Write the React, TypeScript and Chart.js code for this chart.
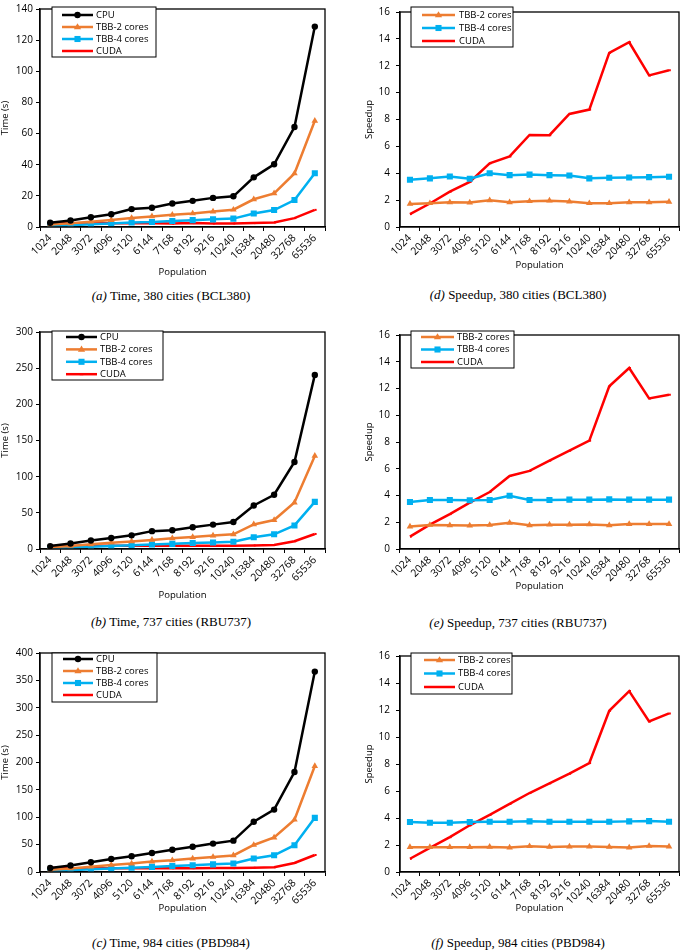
import React, { useEffect, useRef } from 'react';
import { Chart, registerables } from 'chart.js';

Chart.register(...registerables);

// ---------- Data ----------
const populations = ['1024', '2048', '3072', '4096', '5120', '6144', '7168', '8192', '9216', '10240', '16384', '20480', '32768', '65536'];

// (a) Time, 380 cities (BCL380)
const timeBCL380Cpu = [2.7, 4.2, 6.3, 8.2, 11.5, 12.4, 15.1, 16.8, 18.7, 19.7, 31.9, 40.3, 64.2, 128.7];
const timeBCL380Tbb2 = [1.6, 2.4, 3.4, 4.5, 5.8, 6.8, 7.8, 8.7, 9.9, 11.1, 17.8, 21.6, 34.4, 68.2];
const timeBCL380Tbb4 = [0.8, 1.2, 1.7, 2.3, 2.9, 3.2, 3.9, 4.4, 4.9, 5.4, 8.7, 10.9, 17.3, 34.5];
const timeBCL380Cuda = [2.8, 2.3, 2.4, 2.45, 2.4, 2.4, 2.2, 2.5, 2.2, 2.25, 2.5, 2.9, 5.7, 11.0];

// (d) Speedup, 380 cities (BCL380)
const speedBCL380Tbb2 = [1.72, 1.77, 1.84, 1.82, 1.99, 1.84, 1.92, 1.96, 1.89, 1.77, 1.77, 1.84, 1.84, 1.87];
const speedBCL380Tbb4 = [3.52, 3.62, 3.76, 3.59, 4.0, 3.86, 3.9, 3.86, 3.83, 3.62, 3.66, 3.69, 3.71, 3.74];
const speedBCL380Cuda = [0.96, 1.75, 2.63, 3.35, 4.74, 5.25, 6.85, 6.83, 8.41, 8.74, 12.96, 13.75, 11.28, 11.66];

// (b) Time, 737 cities (RBU737)
const timeRBU737Cpu = [4.0, 7.6, 11.7, 15.3, 18.9, 24.7, 26.0, 30.0, 33.7, 37.3, 60.2, 75.0, 120.3, 240.7];
const timeRBU737Tbb2 = [2.4, 4.2, 6.6, 8.7, 10.5, 12.6, 14.7, 16.5, 18.5, 20.3, 34.0, 40.1, 64.3, 128.7];
const timeRBU737Tbb4 = [1.1, 2.1, 3.2, 4.2, 5.2, 6.2, 7.1, 8.2, 9.1, 10.1, 16.2, 20.3, 32.6, 65.2];
const timeRBU737Cuda = [4.2, 4.2, 4.5, 4.4, 4.45, 4.5, 4.4, 4.5, 4.6, 4.6, 4.95, 5.6, 10.7, 20.8];

// (e) Speedup, 737 cities (RBU737)
const speedRBU737Tbb2 = [1.68, 1.8, 1.77, 1.75, 1.8, 1.96, 1.77, 1.82, 1.82, 1.84, 1.77, 1.87, 1.87, 1.87];
const speedRBU737Tbb4 = [3.52, 3.66, 3.66, 3.64, 3.66, 3.98, 3.66, 3.66, 3.69, 3.69, 3.71, 3.69, 3.69, 3.69];
const speedRBU737Cuda = [0.93, 1.82, 2.61, 3.47, 4.26, 5.46, 5.84, 6.61, 7.35, 8.1, 12.17, 13.53, 11.26, 11.54];

// (c) Time, 984 cities (PBD984)
const timePBD984Cpu = [7.2, 11.9, 17.9, 23.9, 28.7, 34.6, 40.6, 46.0, 51.9, 57.3, 91.9, 114.0, 182.7, 366.0];
const timePBD984Tbb2 = [3.9, 6.5, 9.7, 13.0, 15.4, 19.1, 21.3, 24.7, 27.5, 30.3, 49.4, 63.0, 95.5, 193.5];
const timePBD984Tbb4 = [1.95, 3.26, 4.9, 6.5, 7.8, 9.35, 10.9, 12.4, 14.0, 15.5, 24.8, 30.6, 49.0, 98.9];
const timePBD984Cuda = [7.6, 6.7, 7.0, 6.9, 6.8, 6.9, 6.9, 7.0, 7.2, 7.1, 7.7, 8.5, 16.4, 31.1];

// (f) Speedup, 984 cities (PBD984)
const speedPBD984Tbb2 = [1.84, 1.84, 1.84, 1.84, 1.86, 1.81, 1.91, 1.86, 1.89, 1.89, 1.86, 1.81, 1.93, 1.89];
const speedPBD984Tbb4 = [3.7, 3.65, 3.65, 3.7, 3.72, 3.72, 3.75, 3.72, 3.72, 3.72, 3.72, 3.75, 3.77, 3.72];
const speedPBD984Cuda = [0.98, 1.79, 2.58, 3.46, 4.23, 5.04, 5.85, 6.57, 7.28, 8.07, 11.94, 13.4, 11.15, 11.75];

// ---------- Styles ----------
const FONT = "'Open Sans', 'DejaVu Sans', sans-serif";
const SERIF = "'Liberation Serif', 'Times New Roman', serif";

const STYLE_CPU = { label: 'CPU', color: '#000000', pointStyle: 'circle', radius: 3.2 };
const STYLE_TBB2 = { label: 'TBB-2 cores', color: '#ED7D31', pointStyle: 'triangle', radius: 3.8 };
const STYLE_TBB4 = { label: 'TBB-4 cores', color: '#00B0F0', pointStyle: 'rect', radius: 4.3 };
const STYLE_CUDA = { label: 'CUDA', color: '#FF0000', pointStyle: 'dash', radius: 1.8 };

type Series = { style: typeof STYLE_CPU; data: number[] };
type LegendCfg = { x: number; y: number; w: number; h: number; rowY: number; rowDy: number; lineX0: number; lineX1: number; textX: number };
type PanelCfg = {
  key: string;
  left: number; top: number; width: number; height: number;
  padTop: number; padRight: number;
  yAxisWidth: number; xAxisHeight: number;
  yTitle: string; yTitlePad: number; yTickPad: number;
  yMax: number; yStep: number;
  series: Series[];
  legend: LegendCfg;
  capTag: string; capText: string; capCenterX: number; capCenterY: number;
};

const panels: PanelCfg[] = [
  {
    key: 'a', left: 0, top: 0, width: 342, height: 278, padTop: 4, padRight: 17,
    yAxisWidth: 40, xAxisHeight: 51, yTitle: 'Time (s)', yTitlePad: 0, yTickPad: 3,
    yMax: 140, yStep: 20,
    series: [
      { style: STYLE_CPU, data: timeBCL380Cpu },
      { style: STYLE_TBB2, data: timeBCL380Tbb2 },
      { style: STYLE_TBB4, data: timeBCL380Tbb4 },
      { style: STYLE_CUDA, data: timeBCL380Cuda },
    ],
    legend: { x: 52, y: 7, w: 104, h: 50, rowY: 15, rowDy: 12, lineX0: 62, lineX1: 93, textX: 96 },
    capTag: '(a)', capText: ' Time, 380 cities (BCL380)', capCenterX: 171, capCenterY: 296,
  },
  {
    key: 'd', left: 342, top: 0, width: 343, height: 271, padTop: 4, padRight: 1,
    yAxisWidth: 58, xAxisHeight: 44, yTitle: 'Speedup', yTitlePad: 22, yTickPad: 6,
    yMax: 16, yStep: 2,
    series: [
      { style: STYLE_TBB2, data: speedBCL380Tbb2 },
      { style: STYLE_TBB4, data: speedBCL380Tbb4 },
      { style: STYLE_CUDA, data: speedBCL380Cuda },
    ],
    legend: { x: 69, y: 7, w: 102, h: 40, rowY: 15, rowDy: 13, lineX0: 80, lineX1: 113, textX: 117 },
    capTag: '(d)', capText: ' Speedup, 380 cities (BCL380)', capCenterX: 518, capCenterY: 295,
  },
  {
    key: 'b', left: 0, top: 323, width: 342, height: 278, padTop: 4, padRight: 17,
    yAxisWidth: 40, xAxisHeight: 52, yTitle: 'Time (s)', yTitlePad: 0, yTickPad: 3,
    yMax: 300, yStep: 50,
    series: [
      { style: STYLE_CPU, data: timeRBU737Cpu },
      { style: STYLE_TBB2, data: timeRBU737Tbb2 },
      { style: STYLE_TBB4, data: timeRBU737Tbb4 },
      { style: STYLE_CUDA, data: timeRBU737Cuda },
    ],
    legend: { x: 52, y: 8, w: 111, h: 49, rowY: 14, rowDy: 12.4, lineX0: 66, lineX1: 97, textX: 100 },
    capTag: '(b)', capText: ' Time, 737 cities (RBU737)', capCenterX: 171, capCenterY: 622,
  },
  {
    key: 'e', left: 342, top: 323, width: 343, height: 269, padTop: 4, padRight: 1,
    yAxisWidth: 58, xAxisHeight: 43, yTitle: 'Speedup', yTitlePad: 22, yTickPad: 6,
    yMax: 16, yStep: 2,
    series: [
      { style: STYLE_TBB2, data: speedRBU737Tbb2 },
      { style: STYLE_TBB4, data: speedRBU737Tbb4 },
      { style: STYLE_CUDA, data: speedRBU737Cuda },
    ],
    legend: { x: 69, y: 8, w: 103, h: 37, rowY: 14, rowDy: 12.5, lineX0: 79, lineX1: 112, textX: 115 },
    capTag: '(e)', capText: ' Speedup, 737 cities (RBU737)', capCenterX: 518, capCenterY: 623,
  },
  {
    key: 'c', left: 0, top: 644, width: 342, height: 270, padTop: 4, padRight: 17,
    yAxisWidth: 40, xAxisHeight: 42, yTitle: 'Time (s)', yTitlePad: 0, yTickPad: 3,
    yMax: 400, yStep: 50,
    series: [
      { style: STYLE_CPU, data: timePBD984Cpu },
      { style: STYLE_TBB2, data: timePBD984Tbb2 },
      { style: STYLE_TBB4, data: timePBD984Tbb4 },
      { style: STYLE_CUDA, data: timePBD984Cuda },
    ],
    legend: { x: 52, y: 9, w: 105, h: 49, rowY: 15, rowDy: 12, lineX0: 63, lineX1: 93, textX: 96 },
    capTag: '(c)', capText: ' Time, 984 cities (PBD984)', capCenterX: 171, capCenterY: 943,
  },
  {
    key: 'f', left: 342, top: 644, width: 343, height: 270, padTop: 4, padRight: 1,
    yAxisWidth: 58, xAxisHeight: 42, yTitle: 'Speedup', yTitlePad: 22, yTickPad: 6,
    yMax: 16, yStep: 2,
    series: [
      { style: STYLE_TBB2, data: speedPBD984Tbb2 },
      { style: STYLE_TBB4, data: speedPBD984Tbb4 },
      { style: STYLE_CUDA, data: speedPBD984Cuda },
    ],
    legend: { x: 69, y: 9, w: 101, h: 41, rowY: 16, rowDy: 13.5, lineX0: 82, lineX1: 113, textX: 116 },
    capTag: '(f)', capText: ' Speedup, 984 cities (PBD984)', capCenterX: 518, capCenterY: 943,
  },
];

// ---------- Plugins ----------
function drawMarker(ctx: CanvasRenderingContext2D, style: string, x: number, y: number, r: number, color: string) {
  ctx.save();
  ctx.fillStyle = color;
  ctx.strokeStyle = color;
  ctx.beginPath();
  if (style === 'circle') {
    ctx.arc(x, y, r, 0, Math.PI * 2);
    ctx.fill();
  } else if (style === 'triangle') {
    ctx.moveTo(x, y - r);
    ctx.lineTo(x + r * 0.95, y + r * 0.6);
    ctx.lineTo(x - r * 0.95, y + r * 0.6);
    ctx.closePath();
    ctx.fill();
  } else if (style === 'rect') {
    const s = r * Math.SQRT1_2;
    ctx.fillRect(x - s, y - s, 2 * s, 2 * s);
  } else if (style === 'dash') {
    ctx.lineWidth = 2;
    ctx.moveTo(x - r, y);
    ctx.lineTo(x + r, y);
    ctx.stroke();
  }
  ctx.restore();
}

const framePlugin = {
  id: 'frame',
  afterDraw(chart: any) {
    const { ctx, chartArea } = chart;
    ctx.save();
    ctx.strokeStyle = '#000';
    ctx.lineWidth = 1.3;
    ctx.strokeRect(chartArea.left, chartArea.top, chartArea.right - chartArea.left, chartArea.bottom - chartArea.top);
    ctx.restore();
  },
};

const boxLegendPlugin = {
  id: 'boxLegend',
  afterDraw(chart: any, _args: any, opts: any) {
    if (!opts || opts.w === undefined) return;
    const ctx: CanvasRenderingContext2D = chart.ctx;
    ctx.save();
    ctx.fillStyle = '#fff';
    ctx.fillRect(opts.x, opts.y, opts.w, opts.h);
    ctx.strokeStyle = '#000';
    ctx.lineWidth = 1;
    ctx.strokeRect(opts.x, opts.y, opts.w, opts.h);
    chart.data.datasets.forEach((ds: any, i: number) => {
      const y = opts.rowY + i * opts.rowDy;
      ctx.beginPath();
      ctx.strokeStyle = ds.borderColor;
      ctx.lineWidth = 2.5;
      ctx.moveTo(opts.lineX0, y);
      ctx.lineTo(opts.lineX1, y);
      ctx.stroke();
      drawMarker(ctx, ds.pointStyle, (opts.lineX0 + opts.lineX1) / 2, y, ds.pointRadius, ds.borderColor);
      ctx.fillStyle = '#000';
      ctx.font = `9.5px ${FONT}`;
      ctx.textBaseline = 'middle';
      ctx.textAlign = 'left';
      ctx.fillText(ds.label, opts.textX, y);
    });
    ctx.restore();
  },
};

// ---------- Components ----------
function PanelChart({ p }: { p: PanelCfg }) {
  const ref = useRef<HTMLCanvasElement>(null);
  useEffect(() => {
    if (!ref.current) return;
    const chart = new Chart(ref.current, {
      type: 'line',
      data: {
        labels: populations,
        datasets: p.series.map((s) => ({
          label: s.style.label,
          data: s.data,
          borderColor: s.style.color,
          backgroundColor: s.style.color,
          borderWidth: 2.5,
          pointStyle: s.style.pointStyle as any,
          pointRadius: s.style.radius,
          pointBorderWidth: s.style.pointStyle === 'dash' ? 2 : 0,
          pointBackgroundColor: s.style.color,
          pointBorderColor: s.style.color,
          tension: 0,
          fill: false,
        })),
      },
      options: {
        animation: false,
        responsive: false,
        maintainAspectRatio: false,
        layout: { padding: { top: p.padTop, right: p.padRight, left: 0, bottom: 0 } },
        plugins: {
          legend: { display: false },
          tooltip: { enabled: false },
          boxLegend: p.legend,
        } as any,
        scales: {
          x: {
            type: 'category',
            offset: true,
            grid: { offset: true, drawOnChartArea: false, drawTicks: true, tickLength: 4, color: '#000', lineWidth: 1 },
            border: { display: true, color: '#000', width: 1.3 },
            ticks: { minRotation: 45, maxRotation: 45, autoSkip: false, color: '#000', padding: 1, font: { family: FONT, size: 10.5 } },
            title: { display: true, text: 'Population', color: '#000', padding: 0, font: { family: FONT, size: 9.5 } },
            afterFit: (scale: any) => { scale.height = p.xAxisHeight; },
          },
          y: {
            min: 0,
            max: p.yMax,
            grid: { drawOnChartArea: false, drawTicks: true, tickLength: 4, color: '#000', lineWidth: 1 },
            border: { display: true, color: '#000', width: 1.3 },
            ticks: { stepSize: p.yStep, color: '#000', padding: p.yTickPad, font: { family: FONT, size: 10 } },
            title: { display: true, text: p.yTitle, color: '#000', padding: { top: p.yTitlePad, bottom: 0 }, font: { family: FONT, size: 9.5 } },
            afterFit: (scale: any) => { scale.width = p.yAxisWidth; },
          },
        },
      } as any,
      plugins: [framePlugin, boxLegendPlugin],
    });
    return () => chart.destroy();
  }, []);
  return (
    <canvas
      ref={ref}
      width={p.width}
      height={p.height}
      style={{ position: 'absolute', left: p.left, top: p.top, width: p.width, height: p.height }}
    />
  );
}

function Caption({ p }: { p: PanelCfg }) {
  return (
    <div
      style={{
        position: 'absolute',
        left: p.capCenterX - 150,
        width: 300,
        top: p.capCenterY - 9,
        height: 18,
        lineHeight: '18px',
        textAlign: 'center',
        fontFamily: SERIF,
        fontSize: 13,
        color: '#000',
        whiteSpace: 'nowrap',
      }}
    >
      <i>{p.capTag}</i>
      {p.capText}
    </div>
  );
}

export default function App() {
  return (
    <div style={{ position: 'absolute', left: 0, top: 0, width: 685, height: 951, background: '#fff' }}>
      {panels.map((p) => (
        <React.Fragment key={p.key}>
          <PanelChart p={p} />
          <Caption p={p} />
        </React.Fragment>
      ))}
    </div>
  );
}
